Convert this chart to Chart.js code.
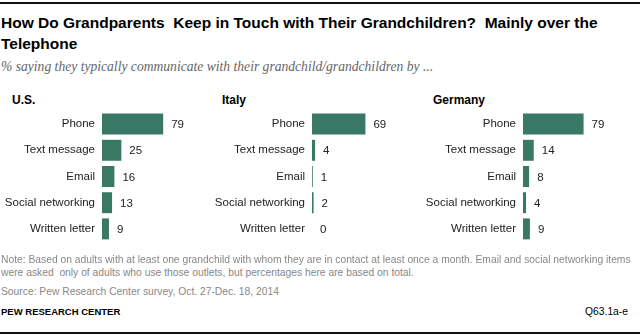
<!DOCTYPE html>
<html>
<head>
<meta charset="utf-8">
<script src="https://cdn.jsdelivr.net/npm/chart.js@4.4.1/dist/chart.umd.min.js"></script>
<style>
  html, body { margin: 0; padding: 0; background: #fff; }
  #page { position: relative; width: 640px; height: 336px; overflow: hidden; font-family: "Liberation Sans", Arial, sans-serif; }
  .rule { position: absolute; left: 0; width: 640px; height: 2px; background: #111; }
  .abs { position: absolute; white-space: nowrap; }
  #title { left: 1px; top: 12px; font-weight: bold; font-size: 15.5px; line-height: 21px; color: #000; }
  #subtitle { left: 1px; top: 59px; font-family: "Liberation Serif", serif; font-style: italic; font-size: 13.6px; color: #666; }
  .panel { font-weight: bold; font-size: 12px; color: #000; top: 93px; }
  .note { font-size: 10.3px; color: #888; left: 1px; }
  canvas { position: absolute; }
</style>
</head>
<body>
<div id="page">
  <div class="rule" style="top:2px"></div>
  <div id="title" class="abs">How Do Grandparents&nbsp; Keep in Touch with Their Grandchildren?&nbsp; Mainly over the<br>Telephone</div>
  <div id="subtitle" class="abs">% saying they typically communicate with their grandchild/grandchildren by ...</div>

  <div class="abs panel" style="left:12px">U.S.</div>
  <div class="abs panel" style="left:222px">Italy</div>
  <div class="abs panel" style="left:433px">Germany</div>

  <canvas id="chartUS" width="205" height="159" style="left:0px;top:97px"></canvas>
  <canvas id="chartIT" width="205" height="159" style="left:210px;top:97px"></canvas>
  <canvas id="chartDE" width="205" height="159" style="left:420px;top:97px"></canvas>

  <div class="abs note" style="top:254px">Note: Based on adults with at least one grandchild with whom they are in contact at least once a month. Email and social networking items</div>
  <div class="abs note" style="top:267px">were asked&nbsp; only of adults who use those outlets, but percentages here are based on total.</div>
  <div class="abs note" style="top:286px">Source: Pew Research Center survey, Oct. 27-Dec. 18, 2014</div>
  <div class="abs note" style="top:306px;color:#000;font-weight:bold;font-size:9.5px">PEW RESEARCH CENTER</div>
  <div class="abs note" style="top:306px;left:auto;right:12px;color:#000">Q63.1a-e</div>
  <div class="rule" style="top:332px"></div>
</div>

<script>
const categories = ["Phone", "Text message", "Email", "Social networking", "Written letter"];
const usValues = [79, 25, 16, 13, 9];
const italyValues = [69, 4, 1, 2, 0];
const germanyValues = [79, 14, 8, 4, 9];

const barColor = "#3a7866";
const xMax = 133;

// draws the number just past the end of each bar
const valueLabels = {
    id: "valueLabels",
    afterDatasetsDraw(chart) {
        const ctx = chart.ctx;
        const meta = chart.getDatasetMeta(0);
        const values = chart.data.datasets[0].data;
        ctx.save();
        ctx.font = "11.5px 'Liberation Sans', Arial, sans-serif";
        ctx.fillStyle = "#222";
        ctx.textAlign = "left";
        ctx.textBaseline = "middle";
        meta.data.forEach((bar, i) => {
            ctx.fillText(values[i], bar.x + 8, bar.y + 1);
        });
        ctx.restore();
    },
};

function makeChart(id, values, axisWidth) {
    const ctx = document.getElementById(id).getContext("2d");
    return new Chart(ctx, {
        type: "bar",
        data: {
            labels: categories,
            datasets: [{
                data: values,
                backgroundColor: barColor,
                categoryPercentage: 1.0,
                barPercentage: 0.8,
            }],
        },
        options: {
            indexAxis: "y",
            responsive: false,
            animation: false,
            layout: { padding: { top: 14, bottom: 14, left: 0, right: 0 } },
            scales: {
                x: { display: false, min: 0, max: xMax },
                y: {
                    grid: { display: false, drawTicks: false },
                    border: { display: false },
                    ticks: {
                        color: "#222",
                        padding: 7,
                        font: { family: "'Liberation Sans', Arial, sans-serif", size: 11.5 },
                    },
                    afterFit(scale) { scale.width = axisWidth; },
                },
            },
            plugins: {
                legend: { display: false },
                tooltip: { enabled: false },
            },
        },
        plugins: [valueLabels],
    });
}

makeChart("chartUS", usValues, 102);
makeChart("chartIT", italyValues, 102);
makeChart("chartDE", germanyValues, 103);
</script>
</body>
</html>
